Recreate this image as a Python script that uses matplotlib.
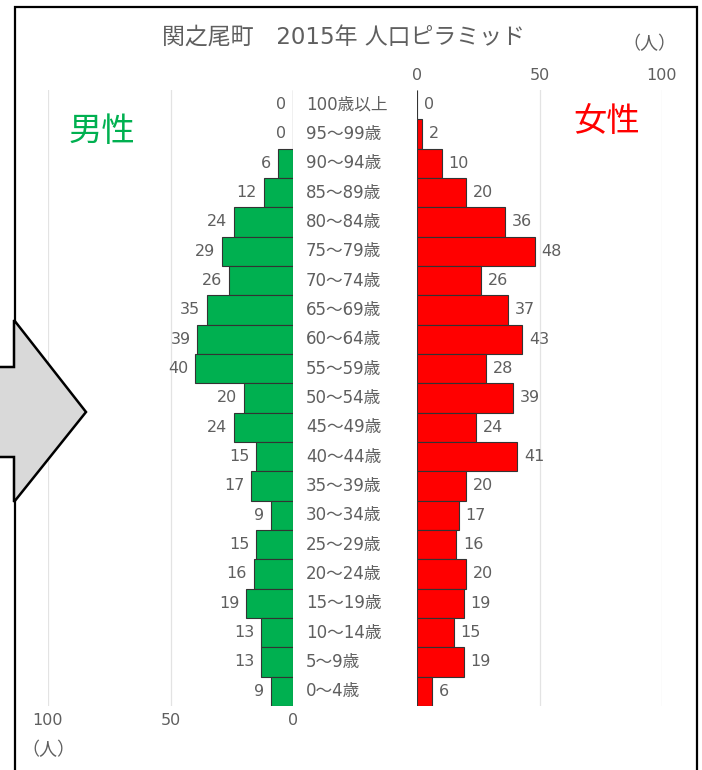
"""Population pyramid: 関之尾町 2015年."""

import matplotlib
matplotlib.use("Agg")
import matplotlib.pyplot as plt
from matplotlib.patches import Polygon, Rectangle

plt.rcParams["font.family"] = ["DejaVu Sans", "Noto Sans CJK JP"]

AGES = ["100歳以上", "95～99歳", "90～94歳", "85～89歳", "80～84歳", "75～79歳", "70～74歳",
        "65～69歳", "60～64歳", "55～59歳", "50～54歳", "45～49歳", "40～44歳", "35～39歳",
        "30～34歳", "25～29歳", "20～24歳", "15～19歳", "10～14歳", "5～9歳", "0～4歳"]
MALE = [0, 0, 6, 12, 24, 29, 26, 35, 39, 40, 20, 24, 15, 17, 9, 15, 16, 19, 13, 13, 9]
FEMALE = [0, 2, 10, 20, 36, 48, 26, 37, 43, 28, 39, 24, 41, 20, 17, 16, 20, 19, 15, 19, 6]
TICKS = [0, 50, 100]

GREEN, RED, GRAY, GRID = "#00B050", "#FF0000", "#5F5F5F", "#E3E3E3"
W, H = 702, 770


def fx(px):
    return px / W


def fy(py):
    return 1 - py / H


fig = plt.figure(figsize=(W / 100, H / 100), dpi=100)
fig.patches.append(Rectangle((fx(15), fy(775)), fx(682), fy(7) - fy(775), transform=fig.transFigure,
                             fill=False, edgecolor="black", linewidth=1.6, zorder=0))
arrow = [(-5, 367), (14, 367), (14, 320), (86, 412), (14, 502), (14, 457), (-5, 457)]
fig.patches.append(Polygon([(fx(x), fy(y)) for x, y in arrow], closed=True, transform=fig.transFigure,
                           facecolor="#D9D9D9", edgecolor="black", linewidth=1.8, zorder=5))

bottom, top = fy(706), fy(90)
ax_m = fig.add_axes([fx(48), bottom, fx(245), top - bottom])
ax_f = fig.add_axes([fx(417), bottom, fx(245), top - bottom])
pos = list(range(len(AGES)))

for ax, vals, color, side in [(ax_m, MALE, GREEN, -1), (ax_f, FEMALE, RED, 1)]:
    ax.barh(pos, vals, height=1.0, color=color, edgecolor="#333333", linewidth=0.8, zorder=3)
    ax.set_ylim(len(AGES) - 0.5, -0.5)
    ax.set_xlim(0, 100)
    ax.set_xticks(TICKS)
    ax.grid(axis="x", color=GRID, linewidth=0.9, zorder=0)
    ax.set_yticks([])
    for s in ax.spines.values():
        s.set_visible(False)
    ax.tick_params(axis="x", length=0, colors=GRAY, labelsize=11.5, pad=5)
    for i, v in enumerate(vals):
        ax.annotate(str(v), (v, i), xytext=(5 * side, 0), textcoords="offset points",
                    ha="right" if side < 0 else "left", va="center",
                    fontsize=11.5, color=GRAY, zorder=4)

ax_m.invert_xaxis()
ax_m.xaxis.tick_bottom()
ax_f.xaxis.tick_top()

for i, label in enumerate(AGES):
    y = bottom + (top - bottom) * (1 - (i + 0.5) / len(AGES))
    fig.text(fx(306), y, label, ha="left", va="center", fontsize=12, color=GRAY)

fig.text(fx(343), fy(38), "関之尾町　2015年 人口ピラミッド", ha="center", va="center", fontsize=16.5, color=GRAY)
fig.text(fx(649), fy(44), "（人）", ha="center", va="center", fontsize=13, color=GRAY)
fig.text(fx(48), fy(750), "（人）", ha="center", va="center", fontsize=13, color=GRAY)
fig.text(fx(102), fy(132), "男性", ha="center", va="center", fontsize=24, color=GREEN)
fig.text(fx(607), fy(122), "女性", ha="center", va="center", fontsize=24, color=RED)

fig.savefig("out.png", dpi=100)
